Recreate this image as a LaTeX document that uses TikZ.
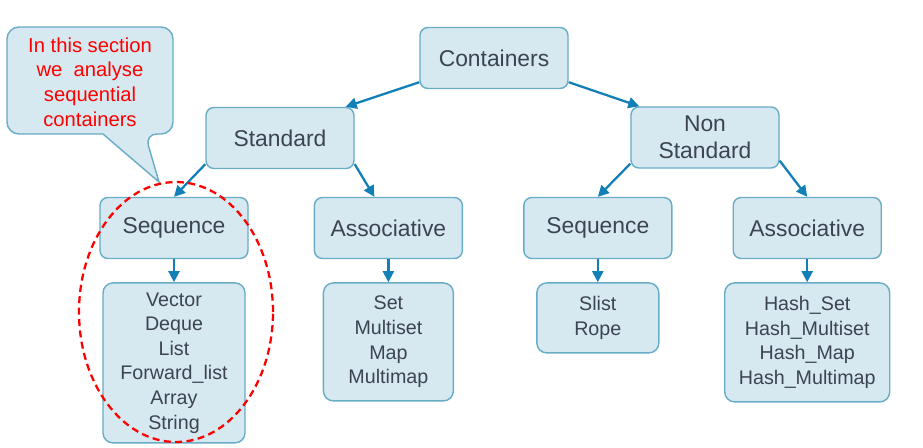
\documentclass[tikz,border=0pt]{standalone}
\usepackage{fontspec}
\setmainfont{Liberation Sans}
\usetikzlibrary{positioning, arrows.meta}
\definecolor{boxfill}{RGB}{214,232,240}
\definecolor{boxline}{RGB}{104,172,200}
\definecolor{arrowblue}{RGB}{18,128,182}
\definecolor{textgray}{RGB}{60,68,82}

\begin{document}
\begin{tikzpicture}[
    kind/.style={draw=boxline, line width=0.8pt, fill=boxfill, rounded corners=0.16cm, minimum width=2.96cm, minimum height=1.22cm, align=center, text=textgray, font=\fontsize{13}{15.5}\selectfont},
    members/.style={draw=boxline, line width=0.8pt, fill=boxfill, rounded corners=0.2cm, align=center, text=textgray, font=\fontsize{11.2}{14}\selectfont},
    link/.style={draw=arrowblue, line width=1.3pt, -{Triangle[length=2.2mm, width=2.2mm]}},
    notebox/.style={draw=boxline, line width=0.8pt, fill=boxfill},
    notetext/.style={align=center, text=red, font=\fontsize{11.5}{14}\selectfont},
    focusring/.style={draw=red, line width=1.3pt, dash pattern=on 4pt off 2.5pt}
]
\useasboundingbox (0,0) rectangle (18.46,-8.94);

% Knoten
\node[kind] (cont) at (9.88,-1.16) {Containers};
\node[kind] (std) at (5.60,-2.76) {Standard};
\node[kind] (nstd) at (14.10,-2.75) {Non\\Standard};
\node[kind] (seqA) at (3.48,-4.56) {Sequence};
\node[kind, right=1.30cm of seqA] (assA) {Associative};
\node[kind, right=1.20cm of assA] (seqB) {Sequence};
\node[kind, right=1.20cm of seqB] (assB) {Associative};

% Listen
\node[members, below=0.46cm of seqA, minimum width=2.84cm, minimum height=3.2cm] (vecs) {Vector\\Deque\\List\\Forward\_list\\Array\\String};
\node[members, below=0.46cm of assA, minimum width=2.6cm, minimum height=2.36cm] (sets) {Set\\Multiset\\Map\\Multimap};
\node[members, below=0.46cm of seqB, minimum width=2.44cm, minimum height=1.4cm] (slist) {Slist\\Rope};
\node[members, below=0.46cm of assB, minimum width=3.3cm, minimum height=2.38cm] (hashes) {Hash\_Set\\Hash\_Multiset\\Hash\_Map\\Hash\_Multimap};

% Kanten zwischen Knoten
\draw[link] ([yshift=0.14cm]cont.south west) -- ([xshift=-0.18cm]std.north east);
\draw[link] ([yshift=0.14cm]cont.south east) -- ([xshift=0.18cm]nstd.north west);
\draw[link] ([yshift=0.1cm]std.south west) -- (seqA.north);
\draw[link] ([yshift=0.1cm]std.south east) -- ([xshift=-0.28cm]assA.north);
\draw[link] ([yshift=0.1cm]nstd.south west) -- (seqB.north);
\draw[link] ([yshift=0.16cm]nstd.south east) -- (assB.north);
\draw[link] (seqA.south) -- (vecs.north);
\draw[link] (assA.south) -- (sets.north);
\draw[link] (seqB.south) -- (slist.north);
\draw[link] (assB.south) -- (hashes.north);

% Sprechblase
\coordinate (tip) at (3.18,-3.64);
\draw[notebox, rounded corners=0.24cm] (2.06,-2.68) -- (0.14,-2.68) -- (0.14,-0.54) -- (3.46,-0.54) -- (3.46,-2.68) -- (2.90,-2.68) [sharp corners] -- (tip) -- cycle;
\node[notetext] (note) at (1.80,-1.64) {In this section\\we~ analyse\\sequential\\containers};

% Markierung
\draw[focusring] (3.52,-6.24) ellipse [x radius=1.94cm, y radius=2.6cm];

\end{tikzpicture}
\end{document}
